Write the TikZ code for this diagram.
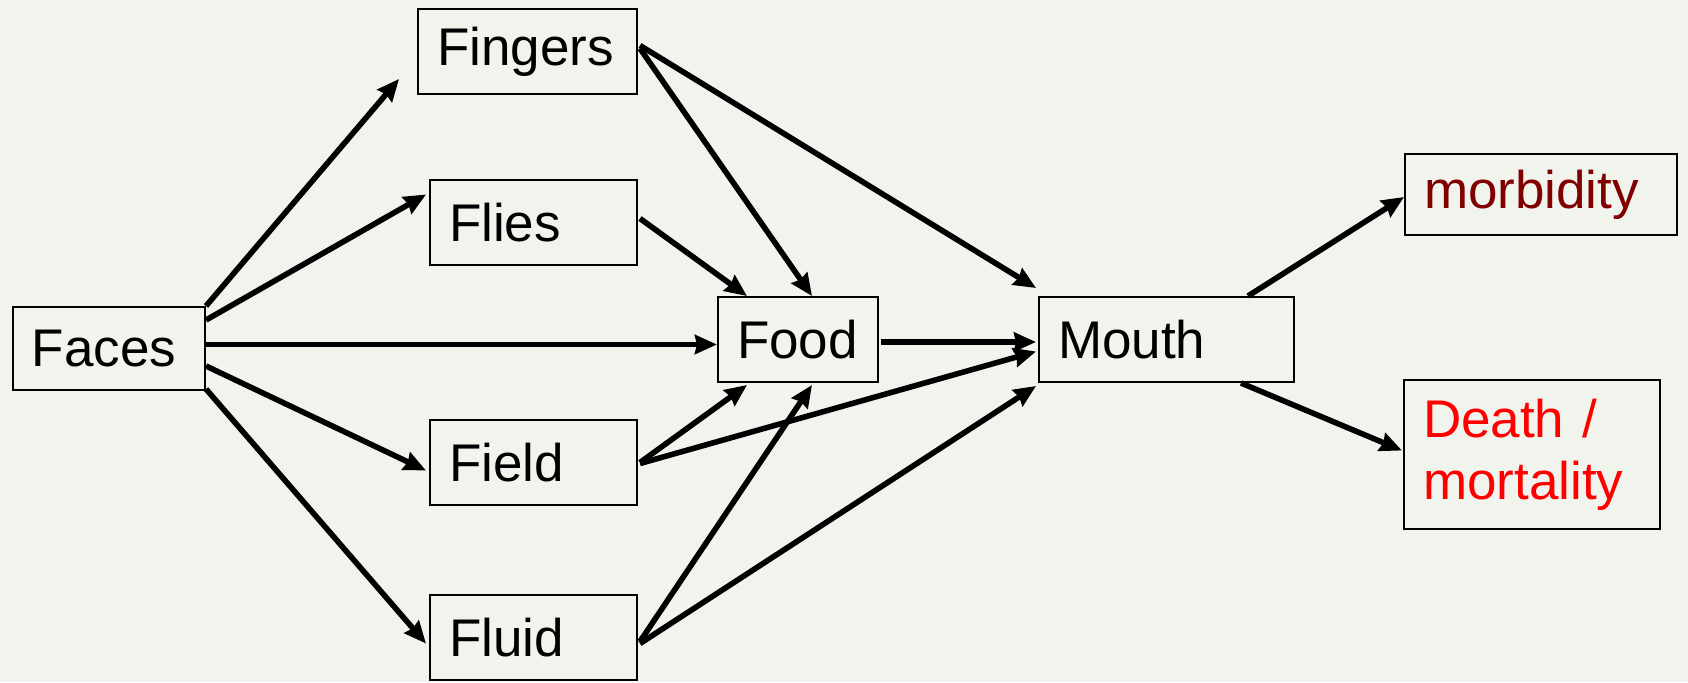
\documentclass[tikz,border=0pt]{standalone}
\usepackage{fontspec}
\setmainfont{Liberation Sans}
\usetikzlibrary{calc,arrows.meta}
\definecolor{bgpaper}{RGB}{241,243,237}
\definecolor{darkred}{RGB}{128,0,0}
\def\drawarrow{\draw[line width=2.8pt,-{Stealth[length=11pt,width=9.5pt,inset=1pt]}]}
\def\boxnode{\node[draw=black,line width=1pt,inner xsep=9.5pt,inner ysep=0pt,align=left,font=\fontsize{26.5}{31}\selectfont]}

\begin{document}
\begin{tikzpicture}[x=0.5pt,y=-0.5pt]
\fill[bgpaper] (0,0) rectangle (1688,682);
\useasboundingbox (0,0) rectangle (1688,682);
\boxnode[text width=77pt,minimum height=41.5pt] (faces) at (109,348.5) {Faces};
\boxnode[text width=90.5pt,minimum height=42.5pt] (fingers) at (527.5,51.5) {Fingers};
\boxnode[text width=84.5pt,minimum height=42.5pt] (flies) at (533.5,222.5) {Flies};
\boxnode[text width=84.5pt,minimum height=42.5pt] (field) at (533.5,462.5) {Field};
\boxnode[text width=84.5pt,minimum height=42.5pt] (fluid) at (533.5,637.5) {Fluid};
\boxnode[text width=61pt,minimum height=42.5pt] (food) at (798,339.5) {Food};
\boxnode[text width=108.5pt,minimum height=42.5pt] (mouth) at (1166.5,339.5) {Mouth};
\boxnode[text width=117pt,minimum height=40.5pt,text=darkred] (morbidity) at (1541,194.5) {morbidity};
\boxnode[text width=109pt,minimum height=74.5pt,text=red] (death) at (1532,454.5) {Death /\\mortality};
% from faces
\drawarrow (faces.north east) -- ($(fingers.south west)+(-18,-16)$);
\drawarrow ($(faces.north east)+(0,14)$) -- ($(flies.west)+(-3,-28)$);
\drawarrow ($(faces.east)+(0,-4)$) -- ($(food.west)+(0,5)$);
\drawarrow ($(faces.east)+(0,17.5)$) -- ($(field.west)+(-3,8)$);
\drawarrow ($(faces.south east)+(0,-2)$) -- ($(fluid.west)+(-3,6)$);
% to food and mouth
\drawarrow ($(fingers.east)+(2,-3)$) -- ($(food.north)+(14,0)$);
\drawarrow ($(fingers.east)+(2,-6)$) -- ($(mouth.north west)+(-2,-8)$);
\drawarrow ($(flies.east)+(2,-4)$) -- ($(food.north west)+(30,0)$);
\drawarrow ($(field.east)+(2,0)$) -- ($(food.south west)+(30,2)$);
\drawarrow ($(field.east)+(2,1)$) -- ($(mouth.west)+(-2,12)$);
\drawarrow ($(fluid.east)+(2,4)$) -- ($(food.south)+(14,2)$);
\drawarrow ($(fluid.east)+(2,6)$) -- ($(mouth.south west)+(-2,3)$);
\drawarrow ($(food.east)+(2,2.5)$) -- ($(mouth.west)+(-2,2.5)$);
% outcomes
\drawarrow ($(mouth.north east)+(-47,0)$) -- ($(morbidity.west)+(0,2.5)$);
\drawarrow ($(mouth.south east)+(-54,0)$) -- ($(death.west)+(-1,-4)$);
\end{tikzpicture}
\end{document}
